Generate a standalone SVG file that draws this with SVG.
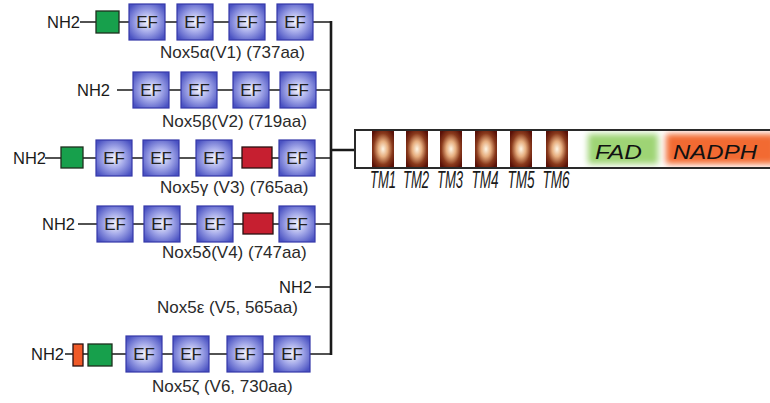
<svg xmlns="http://www.w3.org/2000/svg" width="770" height="403" viewBox="0 0 770 403">
<style>
.t{font-family:"Liberation Sans",Arial,sans-serif;font-size:17px;fill:#2a2a2a}
.nh{font-family:"Liberation Sans",Arial,sans-serif;font-size:16.5px;fill:#1a1a1a}
.eft{font-family:"Liberation Sans",Arial,sans-serif;font-size:17px;fill:#222;text-anchor:middle}
.ef{fill:url(#gEF);stroke:#3438a8;stroke-width:1.2}
.gr{fill:#17a04c;stroke:#1e2e1e;stroke-width:1.3}
.rd{fill:#c61f30;stroke:#2a1212;stroke-width:1.3}
.or{fill:#f05a28;stroke:#2a1212;stroke-width:1.3}
.ln{stroke:#1a1a1a;stroke-width:1.6;fill:none}
.lk{stroke:#1a1a1a;stroke-width:2.6;fill:none}
.tm{fill:url(#gTM)}
.tml{font-family:"Liberation Sans",Arial,sans-serif;font-size:23px;font-style:italic;fill:#1a1a1a;text-anchor:middle}
.dom{font-family:"Liberation Sans",Arial,sans-serif;font-size:21px;font-style:italic;fill:#111}
</style>
<defs>
<radialGradient id="gEF" cx="0.5" cy="0.5" r="0.62">
<stop offset="0" stop-color="#f4f4fc"/>
<stop offset="0.45" stop-color="#a7acea"/>
<stop offset="1" stop-color="#4a52c2"/>
</radialGradient>
<radialGradient id="gTM" cx="0.5" cy="0.5" r="0.62">
<stop offset="0" stop-color="#fff6e6"/>
<stop offset="0.35" stop-color="#e6ad7e"/>
<stop offset="0.7" stop-color="#8a3a1c"/>
<stop offset="1" stop-color="#5a1208"/>
</radialGradient>
<filter id="soft" x="-20%" y="-40%" width="140%" height="180%">
<feGaussianBlur stdDeviation="3"/>
</filter>
<clipPath id="barclip"><rect x="356" y="131" width="420" height="36"/></clipPath>
</defs>

<g id="connectors">
<path class="ln" d="M80 22H96M119 22H129M165 22H177M213 22H229M265 22H277M313 22H331"/>
<path class="ln" d="M117 90H133M169 90H181M217 90H233M269 90H280M316 90H331"/>
<path class="ln" d="M45 158H61M83 158H96M132 158H143M179 158H196M232 158H242M272 158H279M315 158H331"/>
<path class="ln" d="M78 224H97M133 224H144M180 224H197M233 224H243M273 224H279M315 224H331"/>
<path class="ln" d="M315 287H331"/>
<path class="ln" d="M65 354H73M83 354H88M112 354H126M162 354H173M209 354H227M263 354H274M310 354H331"/>
<path class="lk" d="M331 21V355M331 150H356"/>
</g>

<g id="nox5-alpha">
<text class="nh" x="47" y="28">NH2</text>
<rect class="gr" x="96" y="11" width="23" height="22"/>
<rect class="ef" x="129" y="4" width="36" height="36"/><text class="eft" x="147" y="28">EF</text>
<rect class="ef" x="177" y="4" width="36" height="36"/><text class="eft" x="195" y="28">EF</text>
<rect class="ef" x="229" y="4" width="36" height="36"/><text class="eft" x="247" y="28">EF</text>
<rect class="ef" x="277" y="4" width="36" height="36"/><text class="eft" x="295" y="28">EF</text>
<text class="t" x="160" y="58">Nox5α(V1) (737aa)</text>
</g>

<g id="nox5-beta">
<text class="nh" x="77" y="96">NH2</text>
<rect class="ef" x="133" y="72" width="36" height="36"/><text class="eft" x="151" y="96">EF</text>
<rect class="ef" x="181" y="72" width="36" height="36"/><text class="eft" x="199" y="96">EF</text>
<rect class="ef" x="233" y="72" width="36" height="36"/><text class="eft" x="251" y="96">EF</text>
<rect class="ef" x="280" y="72" width="36" height="36"/><text class="eft" x="298" y="96">EF</text>
<text class="t" x="162" y="127">Nox5β(V2) (719aa)</text>
</g>

<g id="nox5-gamma">
<text class="nh" x="13" y="164">NH2</text>
<rect class="gr" x="61" y="147" width="22" height="21"/>
<rect class="ef" x="96" y="140" width="36" height="36"/><text class="eft" x="114" y="164">EF</text>
<rect class="ef" x="143" y="140" width="36" height="36"/><text class="eft" x="161" y="164">EF</text>
<rect class="ef" x="196" y="140" width="36" height="36"/><text class="eft" x="214" y="164">EF</text>
<rect class="rd" x="242" y="147" width="30" height="21"/>
<rect class="ef" x="279" y="140" width="36" height="36"/><text class="eft" x="297" y="164">EF</text>
<text class="t" x="160" y="193">Nox5γ (V3) (765aa)</text>
</g>

<g id="nox5-delta">
<text class="nh" x="42" y="230">NH2</text>
<rect class="ef" x="97" y="206" width="36" height="36"/><text class="eft" x="115" y="230">EF</text>
<rect class="ef" x="144" y="206" width="36" height="36"/><text class="eft" x="162" y="230">EF</text>
<rect class="ef" x="197" y="206" width="36" height="36"/><text class="eft" x="215" y="230">EF</text>
<rect class="rd" x="243" y="213" width="30" height="21"/>
<rect class="ef" x="279" y="206" width="36" height="36"/><text class="eft" x="297" y="230">EF</text>
<text class="t" x="162" y="258">Nox5δ(V4) (747aa)</text>
</g>

<g id="nox5-epsilon">
<text class="nh" x="279" y="293">NH2</text>
<text class="t" x="157" y="313">Nox5ε (V5, 565aa)</text>
</g>

<g id="nox5-zeta">
<text class="nh" x="31" y="360">NH2</text>
<rect class="or" x="73" y="344" width="10" height="22"/>
<rect class="gr" x="88" y="344" width="24" height="22"/>
<rect class="ef" x="126" y="336" width="36" height="36"/><text class="eft" x="144" y="360">EF</text>
<rect class="ef" x="173" y="336" width="36" height="36"/><text class="eft" x="191" y="360">EF</text>
<rect class="ef" x="227" y="336" width="36" height="36"/><text class="eft" x="245" y="360">EF</text>
<rect class="ef" x="274" y="336" width="36" height="36"/><text class="eft" x="292" y="360">EF</text>
<text class="t" x="152" y="392">Nox5ζ (V6, 730aa)</text>
</g>

<g id="nox5-core">
<rect x="355" y="130" width="430" height="38" fill="#fff" stroke="#2a2a2a" stroke-width="2"/>
<g clip-path="url(#barclip)">
<rect x="588" y="134" width="70" height="30" fill="#9ed474" filter="url(#soft)"/>
<rect x="666" y="134" width="110" height="30" fill="#f26a32" filter="url(#soft)"/>
</g>
<rect class="tm" x="372" y="131" width="22" height="36"/>
<rect class="tm" x="406" y="131" width="22" height="36"/>
<rect class="tm" x="440" y="131" width="22" height="36"/>
<rect class="tm" x="475" y="131" width="22" height="36"/>
<rect class="tm" x="510" y="131" width="22" height="36"/>
<rect class="tm" x="546" y="131" width="22" height="36"/>
<text class="tml" transform="translate(383 188) scale(0.57 1)">TM1</text>
<text class="tml" transform="translate(416 188) scale(0.57 1)">TM2</text>
<text class="tml" transform="translate(450 188) scale(0.57 1)">TM3</text>
<text class="tml" transform="translate(485 188) scale(0.59 1)">TM4</text>
<text class="tml" transform="translate(521 188) scale(0.59 1)">TM5</text>
<text class="tml" transform="translate(556 188) scale(0.59 1)">TM6</text>
<text class="dom" x="595" y="159" textLength="47" lengthAdjust="spacingAndGlyphs">FAD</text>
<text class="dom" x="673" y="159" textLength="84" lengthAdjust="spacingAndGlyphs">NADPH</text>
</g>
</svg>
